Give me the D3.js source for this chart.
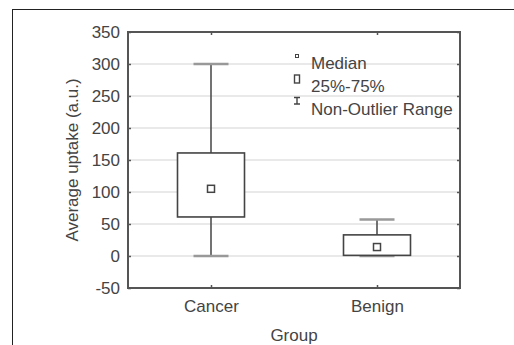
<!DOCTYPE html>
<html>
<head>
<meta charset="utf-8">
<script src="https://cdn.jsdelivr.net/npm/d3@7"></script>
<style>
  html, body { margin: 0; padding: 0; background: #fff; }
  svg { display: block; }
  text { font-family: "Liberation Sans", Arial, sans-serif; fill: #444; }
</style>
</head>
<body>
<svg id="chart" width="514" height="345"></svg>
<script>
// Dados
const groups = ["Cancer", "Benign"];
const medians = [105, 14];
const q1 = [61, 1];
const q3 = [161, 33];
const whiskerLow = [0, 0];
const whiskerHigh = [300, 57];
const yTicks = [-50, 0, 50, 100, 150, 200, 250, 300, 350];
const legendItems = ["Median", "25%-75%", "Non-Outlier Range"];

const svg = d3.select("#chart");
const plot = { left: 128, right: 460, top: 32, bottom: 288 };
const fontSize = "17px";

// Moldura externa
svg.append("rect")
    .attr("x", 12.5).attr("y", 9.5)
    .attr("width", 600).attr("height", 400)
    .attr("fill", "none").attr("stroke", "#222").attr("stroke-width", 1);

const y = d3.scaleLinear().domain([-50, 350]).range([plot.bottom, plot.top]);
const x = d3.scalePoint().domain(groups).range([plot.left, plot.right]).padding(0.5);

// Linhas de grade
svg.append("g").selectAll("line")
    .data(yTicks.filter(t => t > -50 && t < 350))
    .enter().append("line")
    .attr("x1", plot.left).attr("x2", plot.right)
    .attr("y1", d => y(d)).attr("y2", d => y(d))
    .attr("stroke", "#d4d4d4").attr("stroke-width", 1.2);

// Eixos (ticks para dentro)
const axisColor = "#555";
const yAxis = svg.append("g")
    .attr("transform", `translate(${plot.left},0)`)
    .call(d3.axisLeft(y).tickValues(yTicks).tickSize(-3).tickPadding(8).tickFormat(d => String(d)));
yAxis.select(".domain").remove();
yAxis.selectAll("line").attr("stroke", axisColor).attr("stroke-width", 1.5);
yAxis.selectAll("text").style("font-size", fontSize).style("fill", "#444")
    .style("font-family", "'Liberation Sans', Arial, sans-serif");

const yAxisR = svg.append("g")
    .attr("transform", `translate(${plot.right},0)`)
    .call(d3.axisRight(y).tickValues(yTicks).tickSize(-3).tickFormat(""));
yAxisR.select(".domain").remove();
yAxisR.selectAll("line").attr("stroke", axisColor).attr("stroke-width", 1.5);

const xAxis = svg.append("g")
    .attr("transform", `translate(0,${plot.bottom})`)
    .call(d3.axisBottom(x).tickSize(-3).tickPadding(12));
xAxis.select(".domain").remove();
xAxis.selectAll("line").attr("stroke", axisColor).attr("stroke-width", 1.5);
xAxis.selectAll("text").style("font-size", fontSize).style("fill", "#444")
    .style("font-family", "'Liberation Sans', Arial, sans-serif");

const xAxisT = svg.append("g")
    .attr("transform", `translate(0,${plot.top})`)
    .call(d3.axisTop(x).tickSize(-3).tickFormat(""));
xAxisT.select(".domain").remove();
xAxisT.selectAll("line").attr("stroke", axisColor).attr("stroke-width", 1.5);

// Caixas
const boxW = 67, capW = 35, medS = 7;
const boxes = svg.append("g").selectAll("g")
    .data(groups.map((g, i) => ({ g, i })))
    .enter().append("g");

boxes.append("line")
    .attr("x1", d => x(d.g)).attr("x2", d => x(d.g))
    .attr("y1", d => y(whiskerHigh[d.i])).attr("y2", d => y(q3[d.i]))
    .attr("stroke", "#444").attr("stroke-width", 1.5);
boxes.append("line")
    .attr("x1", d => x(d.g)).attr("x2", d => x(d.g))
    .attr("y1", d => y(q1[d.i])).attr("y2", d => y(whiskerLow[d.i]))
    .attr("stroke", "#444").attr("stroke-width", 1.5);
boxes.append("line")
    .attr("x1", d => x(d.g) - capW / 2).attr("x2", d => x(d.g) + capW / 2)
    .attr("y1", d => y(whiskerHigh[d.i])).attr("y2", d => y(whiskerHigh[d.i]))
    .attr("stroke", "#999").attr("stroke-width", 2.5);
boxes.append("line")
    .attr("x1", d => x(d.g) - capW / 2).attr("x2", d => x(d.g) + capW / 2)
    .attr("y1", d => y(whiskerLow[d.i])).attr("y2", d => y(whiskerLow[d.i]))
    .attr("stroke", "#999").attr("stroke-width", 2.5);
boxes.append("rect")
    .attr("x", d => x(d.g) - boxW / 2)
    .attr("y", d => y(q3[d.i]))
    .attr("width", boxW)
    .attr("height", d => y(q1[d.i]) - y(q3[d.i]))
    .attr("fill", "#fff").attr("stroke", "#444").attr("stroke-width", 1.6);
boxes.append("rect")
    .attr("x", d => x(d.g) - medS / 2)
    .attr("y", d => y(medians[d.i]) - medS / 2)
    .attr("width", medS).attr("height", medS)
    .attr("fill", "#fff").attr("stroke", "#444").attr("stroke-width", 1.5);

// Moldura do gráfico
svg.append("rect")
    .attr("x", plot.left).attr("y", plot.top)
    .attr("width", plot.right - plot.left).attr("height", plot.bottom - plot.top)
    .attr("fill", "none").attr("stroke", "#555").attr("stroke-width", 2);

// Legenda
const legX = 297, legY0 = 63, legDy = 23;
const leg = svg.append("g");
leg.append("rect").attr("x", legX - 1.5).attr("y", 54.5).attr("width", 3).attr("height", 3)
    .attr("fill", "#fff").attr("stroke", "#444").attr("stroke-width", 1);
leg.append("rect").attr("x", legX - 2.5).attr("y", 75).attr("width", 5).attr("height", 8)
    .attr("fill", "#fff").attr("stroke", "#444").attr("stroke-width", 1.4);
leg.append("path")
    .attr("d", `M${legX - 3},97.5H${legX + 3}M${legX},97.5V104M${legX - 3},104H${legX + 3}`)
    .attr("stroke", "#444").attr("stroke-width", 1.4).attr("fill", "none");
leg.selectAll("text").data(legendItems).enter().append("text")
    .attr("x", 311).attr("y", (d, i) => legY0 + i * legDy)
    .attr("dy", "0.35em")
    .style("font-size", fontSize)
    .text(d => d);

// Títulos dos eixos
svg.append("text")
    .attr("transform", `translate(72,160) rotate(-90)`)
    .attr("text-anchor", "middle").attr("dy", "0.35em")
    .style("font-size", fontSize)
    .text("Average uptake (a.u.)");
svg.append("text")
    .attr("x", (plot.left + plot.right) / 2).attr("y", 335)
    .attr("text-anchor", "middle").attr("dy", "0.35em")
    .style("font-size", fontSize)
    .text("Group");
</script>
</body>
</html>
